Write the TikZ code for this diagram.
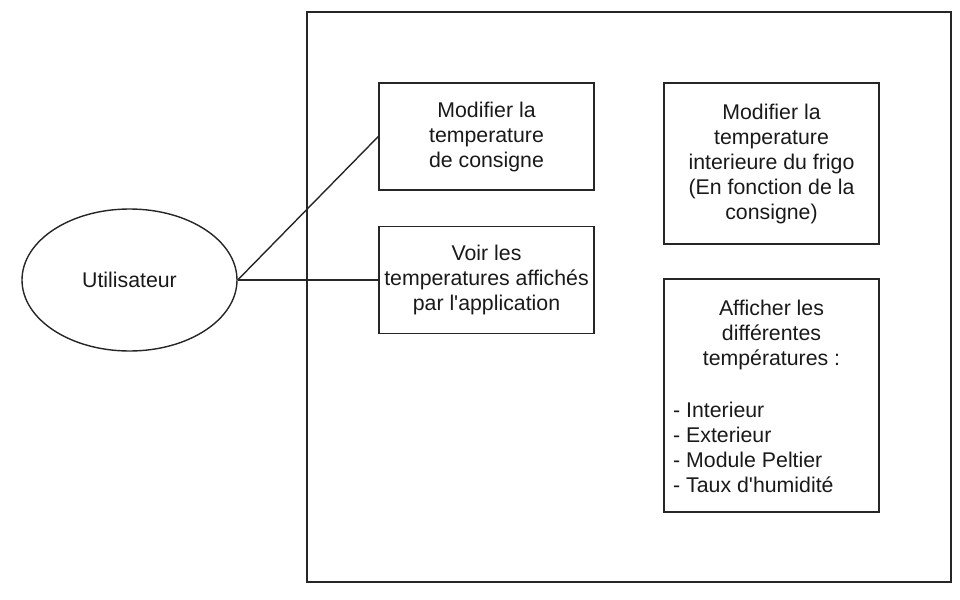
\documentclass[tikz,border=0pt]{standalone}
\usepackage{fontspec}
\setmainfont{Liberation Sans}
\usetikzlibrary{shapes.geometric}
\begin{document}
\begin{tikzpicture}[x=1pt,y=-1pt,
  every node/.style={font=\fontsize{21.3}{25}\selectfont, text=black!90},
  box/.style={draw=black!85, line width=1.4pt, rectangle, inner sep=0pt, minimum width=215pt, align=center},
  actor/.style={draw=black!85, line width=1.4pt, ellipse, inner sep=0pt, minimum width=215pt, minimum height=142pt},
  link/.style={draw=black!85, line width=1.4pt}]
\useasboundingbox (0,0) rectangle (960,599);
\node[draw=black!85, line width=1.4pt, rectangle, inner sep=0pt, minimum width=644pt, minimum height=570pt] (system) at (629,297) {};
\node[actor] (user) at (129.5,280) {Utilisateur};
\node[box, minimum height=107pt] (b1) at (486.5,136.5) {Modifier la\\temperature\\de consigne};
\node[box, minimum height=107pt] (b2) at (486.5,280) {Voir les\\temperatures affichés\\par l\textquotesingle application};
\node[box, minimum height=161pt] (b3) at (771.5,163.5) {Modifier la\\temperature\\interieure du frigo\\(En fonction de la\\consigne)};
\node[box, minimum height=233pt] (b4) at (771.5,395.5) {};
\node[align=center, inner sep=0pt, anchor=center] (b4title) at (771.5,335) {Afficher les\\différentes\\températures :};
\node[align=left, inner sep=0pt, anchor=west] (b4list) at (673,447.5) {- Interieur\\- Exterieur\\- Module Peltier\\- Taux d\textquotesingle humidité};
\draw[link] (user.east) -- (b1.west);
\draw[link] (user.east) -- (b2.west);
\end{tikzpicture}
\end{document}
